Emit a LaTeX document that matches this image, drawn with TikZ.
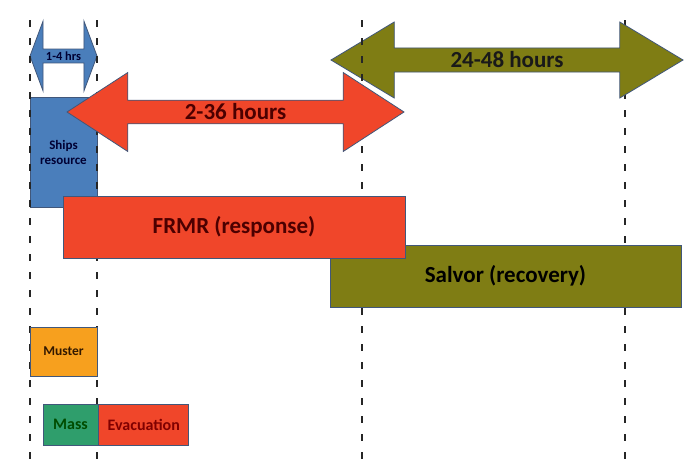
\documentclass[tikz,border=0pt]{standalone}
\usepackage{fontspec}
\setmainfont{Carlito}
\usetikzlibrary{shapes.arrows,positioning}
\definecolor{shipblue}{HTML}{4A7EBB}
\definecolor{frmrred}{HTML}{F0462A}
\definecolor{salvorolive}{HTML}{7F7D14}
\definecolor{musterorange}{HTML}{F7A01E}
\definecolor{massgreen}{HTML}{2F9E6C}
\definecolor{edgegrey}{HTML}{41577A}
\tikzset{
  bar/.style={draw=edgegrey, line width=0.8pt, inner sep=0pt, font=\bfseries},
  span/.style={double arrow, draw=edgegrey, line width=0.8pt, inner sep=0pt, font=\bfseries},
  timeline/.style={line width=2.4pt, dash pattern=on 7pt off 11pt, black!85},
  bigtext/.style={font=\bfseries\fontsize{23}{26}\selectfont}
}
\begin{document}
\begin{tikzpicture}[x=1pt,y=-1pt]
  \fill[white] (0,0) rectangle (684,461);
  \useasboundingbox (0,0) rectangle (684,461);

  % Last time mark, hidden behind the salvor arrow
  \draw[timeline] (625,20) -- (625,461);

  % Arrows for the time spans
  \node[span, bigtext, fill=salvorolive, text=black!90, minimum height=352pt, minimum width=76pt,
        double arrow head extend=18.5pt, double arrow tip angle=62] (salvorspan) at (507,60)
        {24-48 hours};
  \node[span, fill=shipblue, text=black!80!blue, font=\bfseries\fontsize{12.4}{13}\selectfont,
        minimum height=67pt, minimum width=70pt,
        double arrow head extend=19.5pt, double arrow tip angle=139] (shipspan) at (63.5,56)
        {1-4 hrs};

  % Ships resource
  \node[bar, fill=shipblue, text=black!80!blue, align=center, font=\bfseries\fontsize{13}{15}\selectfont,
        minimum width=67pt, minimum height=110pt] (ships) at (63.5,152) {Ships\\resource};

  % Time marks
  \foreach \x in {30,97,362}
    \draw[timeline] (\x,20) -- (\x,461);

  \node[span, bigtext, fill=frmrred, text=black!70!red, minimum height=337pt, minimum width=79pt,
        double arrow head extend=20pt, double arrow tip angle=66] (frmrspan) at (235.5,112)
        {2-36 hours};

  % Response and recovery
  \node[bar, bigtext, fill=salvorolive, text=black, minimum width=351pt, minimum height=62pt]
        (salvor) at (505.5,276) {Salvor (recovery)};
  \node[bar, bigtext, fill=frmrred, text=black!70!red, minimum width=342pt, minimum height=62pt]
        (frmr) at (234,227) {FRMR (response)};

  % Muster, mass evacuation
  \node[bar, fill=musterorange, text=black!80!orange, font=\bfseries\fontsize{13.5}{15}\selectfont,
        minimum width=67pt, minimum height=49pt] (muster) at (63.5,351.5) {Muster};
  \node[bar, fill=massgreen, text=black!70!green, font=\bfseries\fontsize{16}{18}\selectfont,
        minimum width=55pt, minimum height=41pt] (mass) at (70.5,424.5) {Mass};
  \node[bar, fill=frmrred, text=red!50!black, font=\bfseries\fontsize{16}{18}\selectfont,
        minimum width=90pt, minimum height=41pt, right=0pt of mass] (evac) {Evacuation};
\end{tikzpicture}
\end{document}
